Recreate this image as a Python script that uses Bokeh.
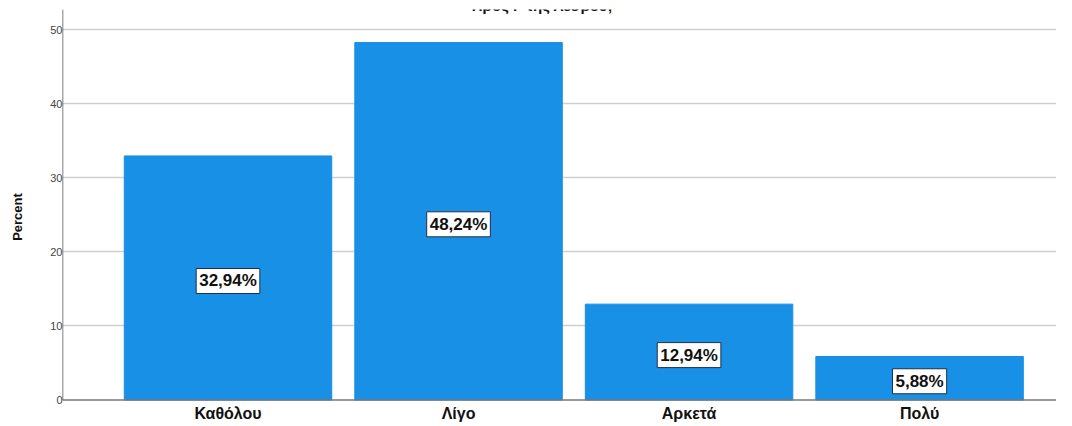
from bokeh.plotting import figure
from bokeh.models import ColumnDataSource, FixedTicker, Range1d, Label, Span
from bokeh.core.properties import value
from bokeh.embed import file_html
from bokeh.resources import INLINE

categories = ["Καθόλου", "Λίγο", "Αρκετά", "Πολύ"]
percents = [32.94, 48.24, 12.94, 5.88]
labels = ["32,94%", "48,24%", "12,94%", "5,88%"]
y_ticks = [0, 10, 20, 30, 40, 50]
title_text = "Προς Γ της Λέσβου;"

X_START, X_END = -0.718, 3.594
Y_START, Y_END = -3.3, 52.7

xs = list(range(len(categories)))
src = ColumnDataSource(dict(
    x=xs, top=percents, mid=[v / 2 for v in percents], lab=labels,
    cat=categories, zero=[0] * len(categories),
))

p = figure(width=1056, height=424, output_backend="svg", toolbar_location=None,
           x_range=Range1d(X_START, X_END), y_range=Range1d(Y_START, Y_END),
           min_border_left=62, min_border_right=0, min_border_top=9,
           min_border_bottom=0)
p.outline_line_color = None
p.background_fill_color = "white"

p.xgrid.grid_line_color = None
p.ygrid.ticker = FixedTicker(ticks=y_ticks[1:])
p.ygrid.grid_line_color = "#cfcfcf"
p.ygrid.grid_line_width = 1.5

p.vbar(x="x", top="top", width=0.9, bottom=0, source=src,
       fill_color="#1790e6", line_color="#1790e6")

p.text(x="x", y="mid", text="lab", source=src, text_align="center",
       text_baseline="middle", text_font=value("Liberation Sans"),
       text_font_style="bold", text_font_size="17px", text_color="#111111",
       background_fill_color="white", border_line_color="#1f2f45",
       border_line_width=1, padding=3, y_offset=3)

# x axis: baseline plus category labels
p.xaxis.visible = False
p.add_layout(Span(location=0, dimension="width", line_color="#777777",
                  line_width=1.5))
p.text(x="x", y="zero", text="cat", source=src, text_align="center",
       text_baseline="top", y_offset=5, text_font=value("Liberation Sans"),
       text_font_style="bold", text_font_size="16px", text_color="#111111")

# y axis (line drawn from 0 to top of range)
p.segment(x0=[X_START], y0=[0], x1=[X_START], y1=[Y_END],
          line_color="#555555", line_width=1.5)
p.yaxis.ticker = FixedTicker(ticks=y_ticks)
p.yaxis.axis_line_color = None
p.yaxis.major_label_text_font = "Liberation Sans"
p.yaxis.major_label_text_font_size = "11px"
p.yaxis.major_label_text_color = "#444444"
p.yaxis.major_label_standoff = 0
p.yaxis.major_tick_out = 0
p.yaxis.major_tick_in = 0
p.yaxis.major_tick_line_color = None
p.yaxis.minor_tick_line_color = None
p.yaxis.axis_label = "Percent"
p.yaxis.axis_label_text_font = "Liberation Sans"
p.yaxis.axis_label_text_font_style = "bold"
p.yaxis.axis_label_text_font_size = "13px"
p.yaxis.axis_label_text_color = "#111111"
p.yaxis.axis_label_standoff = 22

p.add_layout(Label(x=1.364, y=53.24, text=title_text, text_align="center",
                   text_baseline="alphabetic", text_font="Liberation Sans",
                   text_font_style="bold", text_font_size="15px",
                   text_color="#111111"))

open("out.html", "w").write(file_html(p, INLINE))
